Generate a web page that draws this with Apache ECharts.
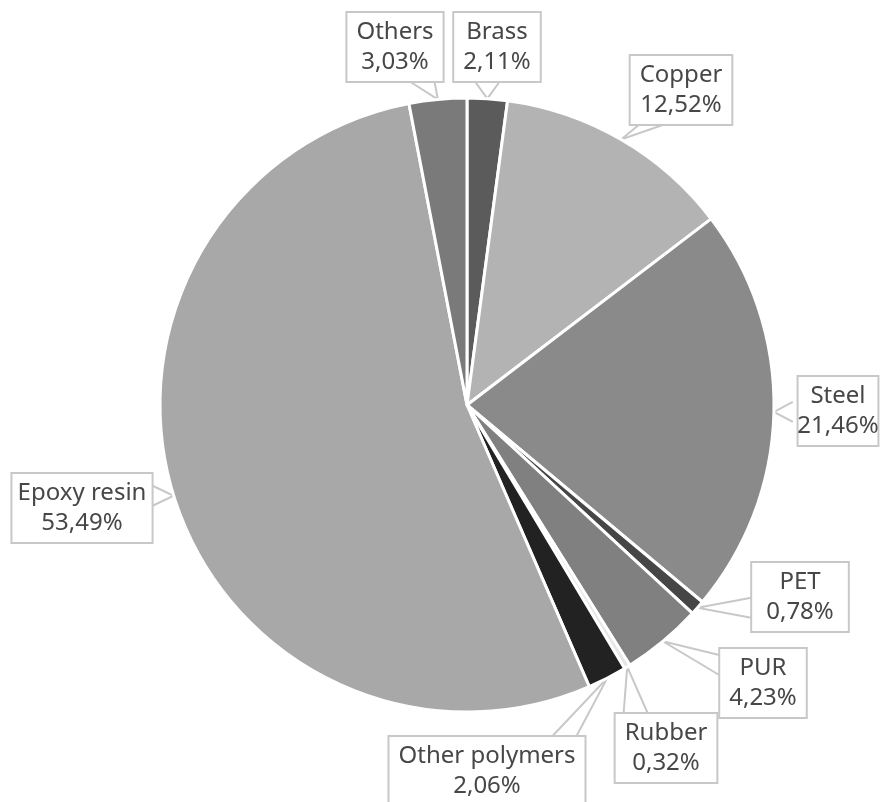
<!DOCTYPE html>
<html>
<head>
<meta charset="utf-8">
<script src="https://cdn.jsdelivr.net/npm/echarts@6/dist/echarts.min.js"></script>
<style>
  html, body { margin: 0; padding: 0; background: #fff; }
  #main { width: 881px; height: 802px; }
</style>
</head>
<body>
<div id="main"></div>
<script>
// materials, clockwise from 12 o'clock
var names = ['Brass', 'Copper', 'Steel', 'PET', 'PUR', 'Rubber', 'Other polymers', 'Epoxy resin', 'Others'];
var shares = [2.11, 12.52, 21.46, 0.78, 4.23, 0.32, 2.06, 53.49, 3.03];
var colors = ['#5b5b5b', '#b3b3b3', '#8a8a8a', '#464646', '#808080', '#e6e6e6', '#222222', '#a8a8a8', '#7a7a7a'];

// label box centres (px) and the side the callout tail leaves from
var labelPos = [
  [497, 47], [681, 90], [838, 411], [800, 597], [763, 683],
  [666, 748], [487, 771], [82, 508], [395, 47]
];
var tailSide = ['bottom', 'bottom', 'left', 'left', 'left', 'top', 'top', 'right', 'bottom'];

var chart = echarts.init(document.getElementById('main'));

function clamp(v, a, b) { return Math.max(a, Math.min(b, v)); }

var option = {
  animation: false,
  series: [{
    type: 'pie',
    center: [467, 405],
    radius: 307,
    startAngle: 90,
    data: names.map(function (n, i) {
      return { name: n, value: shares[i], itemStyle: { color: colors[i] } };
    }),
    itemStyle: {
      borderColor: '#fff',
      borderWidth: 3
    },
    label: {
      show: true,
      formatter: function (p) {
        return p.name + '\n' + p.value.toFixed(2).replace('.', ',') + '%';
      },
      fontFamily: 'Noto Sans',
      fontSize: 24,
      lineHeight: 30,
      color: '#474747',
      backgroundColor: '#fff',
      borderColor: '#c8c8c8',
      borderWidth: 2,
      padding: [4, 9, 4, 9],
      align: 'center',
      overflow: 'none'
    },
    labelLine: {
      show: true,
      length: 10,
      length2: 10,
      lineStyle: { color: '#c8c8c8', width: 2 }
    },
    labelLayout: function (params) {
      var i = params.dataIndex;
      var p = labelPos[i];
      var r = params.labelRect;
      var w = r.width, h = r.height;
      var x0 = p[0] - w / 2, y0 = p[1] - h / 2;
      var tip = params.labelLinePoints ? params.labelLinePoints[0] : null;
      var out = { x: p[0], y: p[1], align: 'center', verticalAlign: 'middle' };
      if (tip) {
        var s = tailSide[i], a, b, c;
        if (s === 'bottom' || s === 'top') {
          var ey = s === 'bottom' ? y0 + h - 1 : y0 + 1;
          c = clamp(tip[0], x0 + 22, x0 + w - 22);
          a = [c - 12, ey]; b = [c + 12, ey];
        } else {
          var ex = s === 'right' ? x0 + w - 1 : x0 + 1;
          c = clamp(tip[1], y0 + 18, y0 + h - 18);
          a = [ex, c - 10]; b = [ex, c + 10];
        }
        out.labelLinePoints = [a, tip, b];
      }
      return out;
    },
    emphasis: { disabled: true }
  }]
};

chart.setOption(option);
</script>
</body>
</html>
